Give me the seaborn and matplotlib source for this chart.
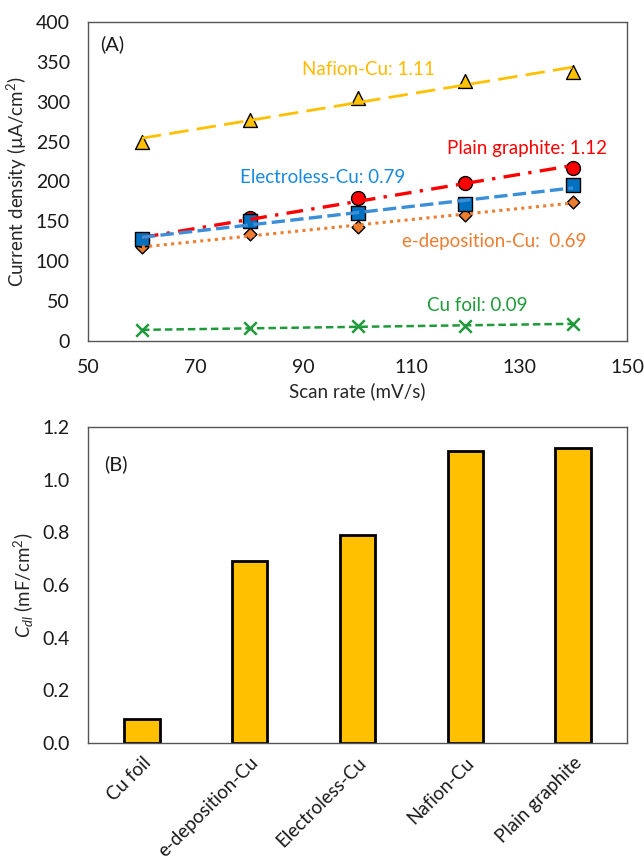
import numpy as np
import pandas as pd
import matplotlib
matplotlib.use("Agg")
import matplotlib.pyplot as plt
import seaborn as sns
from matplotlib.ticker import FixedLocator

# data
scan_rate = [60, 80, 100, 120, 140]
nafion_cu = [250, 277, 304, 326, 337]
plain_graphite = [126, 154, 179, 198, 217]
electroless_cu = [128, 150, 160, 171, 195]
edep_cu = [117, 134, 143, 158, 174]
cu_foil = [13, 16, 18, 19, 21]

samples = ["Cu foil", "e-deposition-Cu", "Electroless-Cu", "Nafion-Cu", "Plain graphite"]
cdl = [0.09, 0.69, 0.79, 1.11, 1.12]

sns.set_style("white")
plt.rcParams['font.family'] = ['Lato', 'DejaVu Sans']
plt.rcParams['mathtext.fontset'] = 'custom'
plt.rcParams['mathtext.rm'] = 'Lato'
plt.rcParams['mathtext.it'] = 'Lato:italic'
plt.rcParams['text.color'] = '#1a1a1a'

fig = plt.figure(figsize=(6.44, 8.66), dpi=100)
ax1 = fig.add_axes([88 / 644, 1 - 340.7 / 866, 539 / 644, 318.7 / 866])
ax2 = fig.add_axes([88 / 644, 1 - 743 / 866, 539 / 644, 316 / 866])

# (series, values, marker, face, marker size, line colour, dashes, line width)
series = [
    ("Cu foil", cu_foil, "x", "#1f9a3a", 9, "#1f9a3a", (3, 1.6), 1.8),
    ("e-deposition-Cu", edep_cu, "D", "#ED7D31", 6.5, "#ED7D31", (1, 1.4), 2.2),
    ("Plain graphite", plain_graphite, "o", "#FF0000", 10, "#FF0000", (5, 2.5, 1, 2.5), 2.4),
    ("Electroless-Cu", electroless_cu, "s", "#0070C0", 9.5, "#3b8ed8", (4, 1.6), 2.4),
    ("Nafion-Cu", nafion_cu, "^", "#FFC000", 10, "#FFC000", (7, 3), 2.0),
]

for name, vals, mk, fc, ms, lc, dash, lw in series:
    df = pd.DataFrame({"Scan rate": scan_rate, "J": vals})
    if mk == "x":
        sns.scatterplot(data=df, x="Scan rate", y="J", marker="x", s=ms ** 2,
                        color=fc, linewidth=1.8, ax=ax1, zorder=3)
    else:
        sns.scatterplot(data=df, x="Scan rate", y="J", marker=mk, s=ms ** 2,
                        color=fc, edgecolor="black", linewidth=1.0, ax=ax1, zorder=3)

for name, vals, mk, fc, ms, lc, dash, lw in series:
    df = pd.DataFrame({"Scan rate": scan_rate, "J": vals})
    sns.regplot(data=df, x="Scan rate", y="J", scatter=False, ci=None, ax=ax1,
                line_kws={"color": lc, "lw": lw, "dashes": dash, "zorder": 4})

ax1.set_xlim(50, 150)
ax1.set_ylim(0, 400)
ax1.set_xticks([50, 70, 90, 110, 130, 150])
ax1.set_yticks(range(0, 401, 50))
ax1.set_xlabel("Scan rate (mV/s)", fontsize=13.5, labelpad=5)
ax1.set_ylabel("Current density (µA/cm$^2$)", fontsize=13.5, labelpad=5)
ax1.tick_params(axis="x", direction="in", length=5, width=1, pad=13, labelsize=14, color="#555555")
ax1.tick_params(axis="y", direction="out", length=5, width=1, pad=8, labelsize=14, color="#555555")

ax1.text(52.2, 372, "(A)", fontsize=14.5, va="center", ha="left")
ax1.text(102, 340, f"Nafion-Cu: {cdl[3]:.2f}", color="#FFBA00", fontsize=13.5, ha="center", va="center")
ax1.text(131.4, 241, f"Plain graphite: {cdl[4]:.2f}", color="#FF0000", fontsize=13.5, ha="center", va="center")
ax1.text(93.6, 205, f"Electroless-Cu: {cdl[2]:.2f}", color="#1a8ae0", fontsize=13.5, ha="center", va="center")
ax1.text(125.3, 124, f"e-deposition-Cu:  {cdl[1]:.2f}", color="#ED7D31", fontsize=13.5, ha="center", va="center")
ax1.text(122.2, 44, f"Cu foil: {cdl[0]:.2f}", color="#1f9a3a", fontsize=13.5, ha="center", va="center")

# bar chart of Cdl
bar_df = pd.DataFrame({"Sample": samples, "Cdl": cdl})
sns.barplot(data=bar_df, x="Sample", y="Cdl", color="#FFC000", saturation=1,
            edgecolor="black", linewidth=2, width=0.33, ax=ax2)
ax2.set_xlim(-0.5, 4.5)
ax2.set_ylim(0, 1.2)
ax2.set_yticks(np.arange(0, 1.21, 0.2))
ax2.set_yticklabels([f"{v:.1f}" for v in np.arange(0, 1.21, 0.2)])
ax2.set_xticks(range(len(samples)))
ax2.set_xticklabels(samples, rotation=45, ha="right", rotation_mode="anchor")
ax2.xaxis.set_minor_locator(FixedLocator([0.5, 1.5, 2.5, 3.5]))
ax2.tick_params(axis="x", which="major", length=0, pad=8, labelsize=13.5)
ax2.tick_params(axis="x", which="minor", direction="in", length=5, width=1, color="#555555")
ax2.tick_params(axis="y", direction="out", length=5, width=1, pad=8, labelsize=14, color="#555555")
ax2.set_xlabel("")
ax2.set_ylabel("$C_{dl}$ (mF/cm$^2$)", fontsize=13.5, labelpad=5)
ax2.text(-0.35, 1.06, "(B)", fontsize=14.5, va="center", ha="left")

for ax in (ax1, ax2):
    for sp in ax.spines.values():
        sp.set_color("#555555")
        sp.set_linewidth(1.0)
    ax.tick_params(labelcolor="#1a1a1a")

fig.savefig("out.png", dpi=100)
